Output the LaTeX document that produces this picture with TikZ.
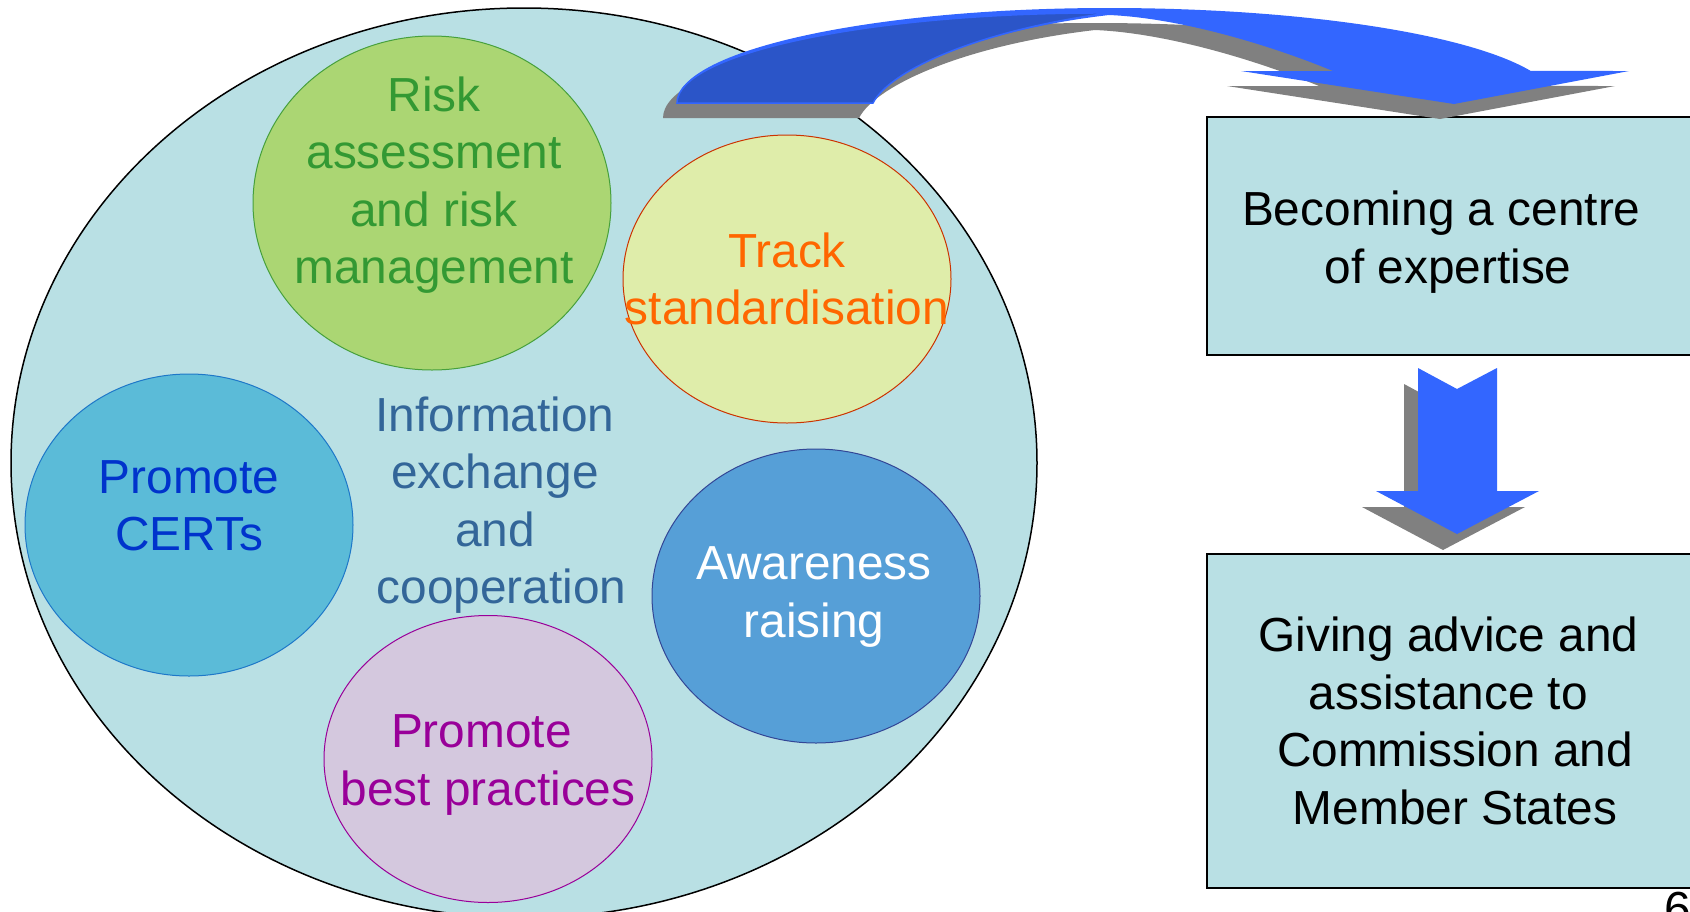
\documentclass[tikz,border=0pt]{standalone}
\usepackage{fontspec}
\setmainfont{Liberation Sans}
\usetikzlibrary{shapes.geometric}
\definecolor{bigfill}{RGB}{185,224,228}
\definecolor{greenfill}{RGB}{171,214,115}
\definecolor{greenline}{RGB}{70,160,60}
\definecolor{greentext}{RGB}{51,153,51}
\definecolor{yellowfill}{RGB}{223,237,170}
\definecolor{yellowline}{RGB}{204,51,0}
\definecolor{orangetext}{RGB}{255,102,0}
\definecolor{certfill}{RGB}{91,187,216}
\definecolor{certline}{RGB}{30,120,200}
\definecolor{certtext}{RGB}{0,51,204}
\definecolor{awarefill}{RGB}{86,159,215}
\definecolor{awareline}{RGB}{50,70,150}
\definecolor{purplefill}{RGB}{212,200,222}
\definecolor{purpleline}{RGB}{153,0,153}
\definecolor{infotext}{RGB}{51,102,153}
\definecolor{arrowlight}{RGB}{51,102,255}
\definecolor{arrowdark}{RGB}{43,85,200}
\definecolor{shadowgray}{RGB}{128,128,128}
\newcommand\myCurvedArrowPath{(677,103) arc[start angle=-180, end angle=-90, x radius=432, y radius=95]
  arc[start angle=-90, end angle=-19.7, x radius=448, y radius=95]
  -- (1629,71) -- (1454,104) -- (1241,71) -- (1333,71)
  .. controls (1270,45) and (1180,18) .. (1109,15)
  .. controls (980,30) and (890,70) .. (873,103) -- cycle}
\newcommand\myDownArrowPath{(1418,368) -- (1457,389) -- (1497,368) -- (1497,491) -- (1539,491)
  -- (1457,534) -- (1376,491) -- (1418,491) -- cycle}
\begin{document}
\begin{tikzpicture}[x=1pt,y=-1pt,
  blob/.style={ellipse, inner sep=0pt, line width=1pt},
  lbl/.style={align=center, font=\fontsize{47.8}{57.5}\selectfont, inner sep=0pt},
  boxst/.style={draw=black, line width=2pt, fill=bigfill, inner sep=0pt, anchor=north west}]
\useasboundingbox (0,0) rectangle (1690,911);
\clip (0,0) rectangle (1690,911);
\fill[white] (0,0) rectangle (1690,911);
% big ellipse
\node[blob, draw=black, line width=1.5pt, fill=bigfill, minimum width=1026pt, minimum height=910pt] (big) at (524,463) {};
% inner ellipses
\node[blob, draw=greenline, fill=greenfill, minimum width=358pt, minimum height=334pt] (risk) at (432,203) {};
\node[blob, draw=yellowline, fill=yellowfill, minimum width=328pt, minimum height=288pt] (track) at (787,279) {};
\node[blob, draw=certline, fill=certfill, minimum width=328pt, minimum height=302pt] (cert) at (189,525) {};
\node[blob, draw=awareline, fill=awarefill, minimum width=328pt, minimum height=294pt] (aware) at (816,596) {};
\node[blob, draw=purpleline, fill=purplefill, minimum width=328pt, minimum height=287pt] (best) at (488,759) {};
% texts
\node[lbl, text=greentext] (risktxt) at (434,185) {Risk\\assessment\\and risk\\management};
\node[lbl, text=orangetext] (tracktxt) at (787,279) {Track\\standardisation};
\node[lbl, text=certtext] (certtxt) at (189,506) {Promote\\CERTs};
\node[lbl, text=infotext] (infotxt) at (495,505) {Information\\exchange\\and\\\kern0.278em cooperation};
\node[lbl, text=white] (awaretxt) at (814,597) {Awareness\\raising};
\node[lbl, text=purpleline] (besttxt) at (488,765) {Promote\kern0.278em\\best practices};
% boxes
\node[boxst, minimum width=500pt, minimum height=238pt] (box1) at (1206,116) {};
\node[boxst, minimum width=500pt, minimum height=334pt] (box2) at (1206,553) {};
\node[lbl] (box1txt) at (1448,242) {Becoming a centre\kern0.278em\\of expertise};
\node[lbl] (box2txt) at (1455,721) {Giving advice and\kern0.278em\\assistance to\kern0.278em\\Commission and\\Member States};
% curved arrow
\begin{scope}[shift={(-14,15)}]
\fill[shadowgray] \myCurvedArrowPath;
\end{scope}
\fill[arrowlight] \myCurvedArrowPath;
\filldraw[fill=arrowdark, draw=arrowlight, line width=1.5pt]
  (677,103) .. controls (677,53) and (872,12) .. (1109,13)
  .. controls (980,30) and (890,70) .. (873,103) -- cycle;
% down arrow
\begin{scope}[shift={(-14,16)}]
\fill[shadowgray] \myDownArrowPath;
\end{scope}
\fill[arrowlight] \myDownArrowPath;
% page number
\node[lbl, anchor=north] (pg) at (1678,892) {6};
\end{tikzpicture}
\end{document}
